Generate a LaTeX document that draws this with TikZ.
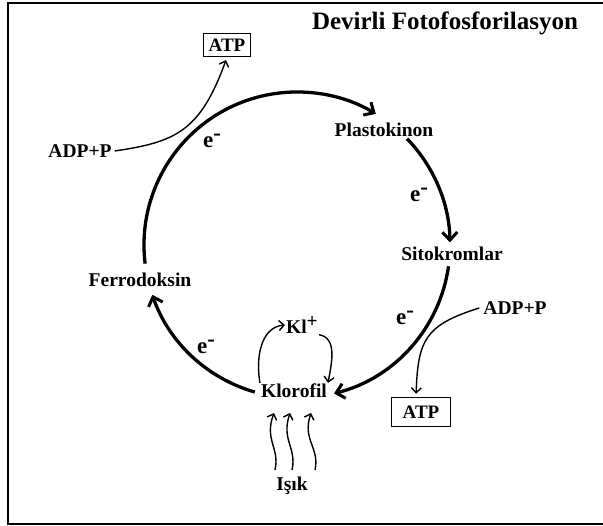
\documentclass[tikz,border=0pt]{standalone}
\usepackage{fontspec}
\setmainfont{Liberation Serif}
\usetikzlibrary{arrows.meta,calc}
\begin{document}
\begin{tikzpicture}[x=1pt,y=-1pt,
  lbl/.style={font=\bfseries\fontsize{19.5}{21}\selectfont, inner sep=1pt},
  elec/.style={font=\bfseries\fontsize{23}{23}\selectfont, inner sep=0pt},
  mainarc/.style={line width=3.3pt, -{Straight Barb[length=8pt,width=15pt,line width=3pt]}},
  thinarr/.style={line width=1.4pt, -{Straight Barb[length=5pt,width=10pt,line width=1.4pt]}},
  atpbox/.style={font=\bfseries\fontsize{19}{21}\selectfont, draw, line width=1.6pt, minimum width=47pt, minimum height=23pt, inner sep=2pt}]
\useasboundingbox (0,0) rectangle (603,526);
\draw[line width=2pt] (604,3) -- (8,3) -- (8,524) -- (604,524);

\node[font=\bfseries\fontsize{25}{27}\selectfont, inner sep=0pt] (title) at (445,23) {Devirli Fotofosforilasyon};
\node[atpbox] (atp1) at (227,45) {ATP};
\node[atpbox, minimum width=59pt, minimum height=29pt] (atp2) at (421,412) {ATP};
\node[lbl] (adp1) at (80,151) {ADP+P};
\node[lbl] (adp2) at (515,308) {ADP+P};
\node[lbl] (plasto) at (384,130) {Plastokinon};
\node[lbl] (sito) at (452,254) {Sitokromlar};
\node[lbl] (ferro) at (140,280) {Ferrodoksin};
\node[lbl] (kloro) at (294,391) {Klorofil};
\node[lbl] (kl) at (302,325) {Kl\raisebox{6pt}{+}};
\node[lbl] (isik) at (292,486) {Işık};

\node[elec] (e1) at (212,141) {e\raisebox{7pt}{-}};
\node[elec] (e2) at (419,195) {e\raisebox{7pt}{-}};
\node[elec] (e3) at (405,318) {e\raisebox{7pt}{-}};
\node[elec] (e4) at (206,347) {e\raisebox{7pt}{-}};

\coordinate (c) at (297,245);
\coordinate (a1) at ($(c)+(106:153)$);
\coordinate (a2) at ($(c)+(173:153)$);
\coordinate (a3) at ($(c)+(316:153)$);
\coordinate (a4) at ($(c)+(8:153)$);
\draw[mainarc] (a1) arc[start angle=106, end angle=161, radius=153];
\draw[mainarc] (a2) arc[start angle=173, end angle=301, radius=153];
\draw[mainarc] (a3) arc[start angle=316, end angle=359, radius=153];
\draw[mainarc] (a4) arc[start angle=8, end angle=76, radius=153];

\draw[thinarr, shorten >=3pt] ([xshift=2pt]adp1.east) .. controls (175,142) and (200,132) .. (atp1.south);
\draw[thinarr, shorten >=3pt] ([xshift=-3pt]adp2.west) .. controls (425,325) and (418,340) .. ([xshift=-5pt]atp2.north);

\draw[thinarr] (kloro.north west) to[out=100, in=185] (kl.west);
\draw[thinarr] (kl.south east) to[out=-10, in=80] (kloro.north east);

\coordinate (i1) at (275,470);
\coordinate (i2) at (292,470);
\coordinate (i3) at (315,470);
\coordinate (t1) at (274,413);
\coordinate (t2) at (290,413);
\coordinate (t3) at (311,413);
\draw[thinarr] (i1) .. controls (280,448) and (264,440) .. (t1);
\draw[thinarr] (i2) .. controls (297,448) and (281,440) .. (t2);
\draw[thinarr] (i3) .. controls (320,448) and (302,440) .. (t3);
\end{tikzpicture}
\end{document}
